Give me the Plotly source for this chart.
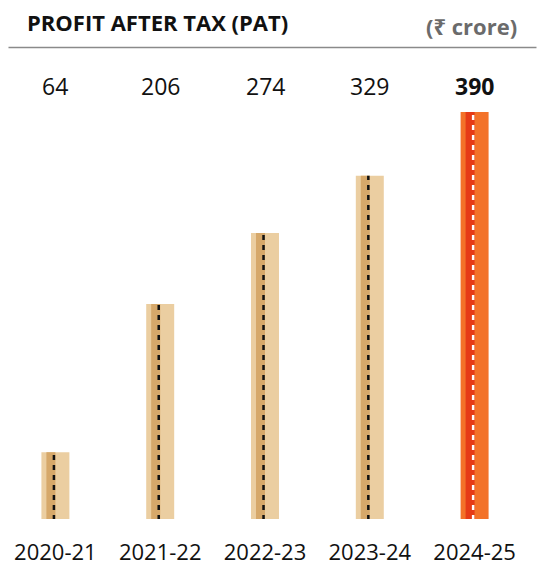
import plotly.graph_objects as go

years = ["2020-21", "2021-22", "2022-23", "2023-24", "2024-25"]
pat = [64, 206, 274, 329, 390]
light_colors = ["#EBCEA1", "#EBCEA1", "#EBCEA1", "#EBCEA1", "#F37229"]
dark_colors = ["#D6A86A", "#D6A86A", "#D6A86A", "#D6A86A", "#E63B17"]
dash_colors = ["#111111", "#111111", "#111111", "#111111", "#FFFFFF"]

FONT = "Open Sans, Noto Sans, sans-serif"
xs = list(range(len(years)))

W, HT = 537, 570
ML, MR, MT, MB = 2.5, 9.5, 112, 51
H = HT - MT - MB
PW = W - ML - MR


def py(y):
    return (HT - MB - y) / H


def px(x):
    return (x - ML) / PW


fig = go.Figure()
fig.add_trace(go.Bar(x=xs, y=pat, width=0.267, marker=dict(color=light_colors, line=dict(width=0)),
                     hoverinfo="skip"))
fig.add_trace(go.Bar(x=xs, y=pat, width=0.086, offset=-0.086,
                     marker=dict(color=dark_colors, line=dict(width=0)), hoverinfo="skip"))
for i, v in enumerate(pat):
    fig.add_trace(go.Scatter(x=[i - 0.014, i - 0.014], y=[-1, v], mode="lines",
                             line=dict(color=dash_colors[i], width=2.5, dash="5px,5px"),
                             hoverinfo="skip"))

for i, v in enumerate(pat):
    last = i == len(pat) - 1
    fig.add_annotation(x=i, y=py(86), yref="paper", xref="x", yanchor="middle",
                       text=f"<b>{v}</b>" if last else str(v), showarrow=False,
                       font=dict(size=23, color="#111111", family=FONT))

fig.add_annotation(x=px(25), y=py(22), xref="paper", yref="paper", xanchor="left", yanchor="middle",
                   text="<b>PROFIT AFTER TAX (PAT)</b>", showarrow=False,
                   font=dict(size=22, color="#111111", family=FONT))
fig.add_annotation(x=px(519), y=py(26), xref="paper", yref="paper", xanchor="right", yanchor="middle",
                   text="<b>(₹ crore)</b>", showarrow=False,
                   font=dict(size=22, color="#6B6B6B", family=FONT))
fig.add_shape(type="line", xref="paper", yref="paper", x0=px(8), x1=px(537), y0=py(47.5), y1=py(47.5),
              line=dict(color="#8A8A8A", width=1.5))

fig.update_layout(
    width=W, height=HT,
    margin=dict(l=ML, r=MR, t=MT, b=MB, pad=0),
    plot_bgcolor="white", paper_bgcolor="white",
    barmode="overlay", showlegend=False,
    xaxis=dict(range=[-0.5, 4.5], tickvals=xs, ticktext=years, showgrid=False, zeroline=False,
               showline=False, ticks="", ticklabelstandoff=18,
               tickfont=dict(size=22, color="#111111", family=FONT)),
    yaxis=dict(range=[0, 390], visible=False, showgrid=False, zeroline=False),
)

fig.write_html("out.html", config={"displayModeBar": False},
               post_script="document.body.style.margin='0';")
